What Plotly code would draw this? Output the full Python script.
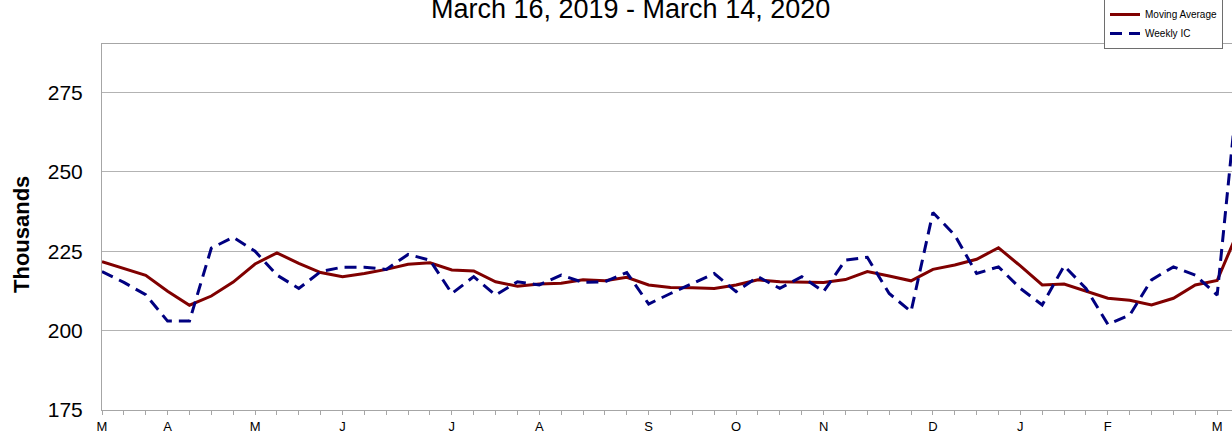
import pandas as pd
import plotly.graph_objects as go

# Week-ending dates (Saturdays) March 16, 2019 .. March 14, 2020
weeks = pd.date_range("2019-03-16", periods=53, freq="7D")

# Values in thousands
moving_average = [
    221.7, 219.6, 217.4, 212.4, 208.0, 210.9, 215.3, 221.0, 224.5, 221.2,
    218.3, 217.0, 218.0, 219.3, 220.9, 221.4, 219.1, 218.8, 215.4, 214.0,
    214.7, 214.9, 216.0, 215.7, 216.8, 214.4, 213.6, 213.5, 213.3, 214.4,
    216.0, 215.4, 215.2, 215.2, 216.1, 218.6, 217.2, 215.7, 219.3, 220.7,
    222.5, 226.1, 220.4, 214.4, 214.7, 212.5, 210.2, 209.6, 208.1, 210.2,
    214.4, 215.8, 232.0,
]
weekly_ic = [
    218.6, 215.2, 211.3, 203.0, 203.0, 226.0, 229.4, 225.0, 217.5, 213.3,
    218.6, 220.0, 220.0, 219.3, 224.0, 222.2, 211.7, 217.0, 211.2, 215.4,
    214.4, 217.5, 215.2, 215.4, 218.3, 208.4, 211.7, 214.9, 218.0, 212.3,
    217.0, 213.3, 217.0, 212.3, 222.2, 223.1, 211.7, 206.0, 237.2, 230.1,
    218.0, 220.1, 213.3, 208.1, 220.4, 213.3, 202.0, 204.9, 216.0, 220.1,
    217.5, 211.2, 280.0,
]

tick_dates = ["2019-03-16", "2019-04-06", "2019-05-04", "2019-06-01", "2019-07-06",
              "2019-08-03", "2019-09-07", "2019-10-05", "2019-11-02", "2019-12-07",
              "2020-01-04", "2020-02-01", "2020-03-07"]
tick_labels = ["M", "A", "M", "J", "J", "A", "S", "O", "N", "D", "J", "F", "M"]

title_text = "March 16, 2019 - March 14, 2020"
FONT = "Liberation Sans, Arial, sans-serif"

fig = go.Figure()
fig.add_trace(go.Scatter(
    x=weeks, y=moving_average, mode="lines", name="Moving Average",
    line=dict(color="#800000", width=3),
))
fig.add_trace(go.Scatter(
    x=weeks, y=weekly_ic, mode="lines", name="Weekly IC",
    line=dict(color="#000080", width=3, dash="12px,7px"),
))

W, H = 1232, 433
L, R, T, B = 102, 0, 44, 23
pw, ph = W - L - R, H - T - B

fig.update_layout(
    width=W, height=H,
    margin=dict(l=L, r=R, t=T, b=B, autoexpand=False),
    paper_bgcolor="white", plot_bgcolor="white",
    font=dict(family=FONT, color="black"),
    showlegend=True,
    legend=dict(
        x=(1104 - L) / pw, xanchor="left",
        y=(H - B + 1) / ph, yanchor="top",
        bgcolor="white", bordercolor="#6e6e6e", borderwidth=1,
        font=dict(size=10, family=FONT, color="black"),
        tracegroupgap=0,
    ),
    xaxis=dict(
        range=["2019-03-16", "2020-03-11 18:00"],
        tickmode="array", tickvals=tick_dates, ticktext=tick_labels,
        ticks="outside", ticklen=4, tickcolor="#a6a6a6", tickwidth=1,
        tickfont=dict(size=13, family=FONT, color="black"),
        showgrid=False, showline=True, linecolor="#a6a6a6", linewidth=1,
        mirror=True, zeroline=False,
        minor=dict(ticks="outside", ticklen=4, tickcolor="#a6a6a6",
                   dtick=7 * 86400000, tick0="2019-03-16", showgrid=False),
    ),
    yaxis=dict(
        range=[175, 290.3], tick0=175, dtick=25,
        ticks="", showgrid=True, gridcolor="#b3b3b3", gridwidth=1,
        showline=True, linecolor="#a6a6a6", linewidth=1, zeroline=False,
        tickfont=dict(size=21, family=FONT, color="black"),
        ticklabelstandoff=14,
    ),
)

fig.add_annotation(
    text="Thousands", textangle=-90, showarrow=False,
    xref="paper", yref="paper",
    x=(21 - L) / pw, y=(H - B - 235) / ph,
    xanchor="center", yanchor="middle",
    font=dict(size=22, family=FONT, color="black", weight="bold"),
)
fig.add_annotation(
    text=title_text, showarrow=False,
    xref="paper", yref="paper",
    x=(630 - L) / pw, y=(H - B - 9) / ph,
    xanchor="center", yanchor="middle",
    font=dict(size=27, family=FONT, color="black"),
)

fig.write_html(
    "out.html",
    config={"displayModeBar": False, "staticPlot": True},
    post_script="document.body.style.margin='0';document.body.style.overflow='hidden';",
)
